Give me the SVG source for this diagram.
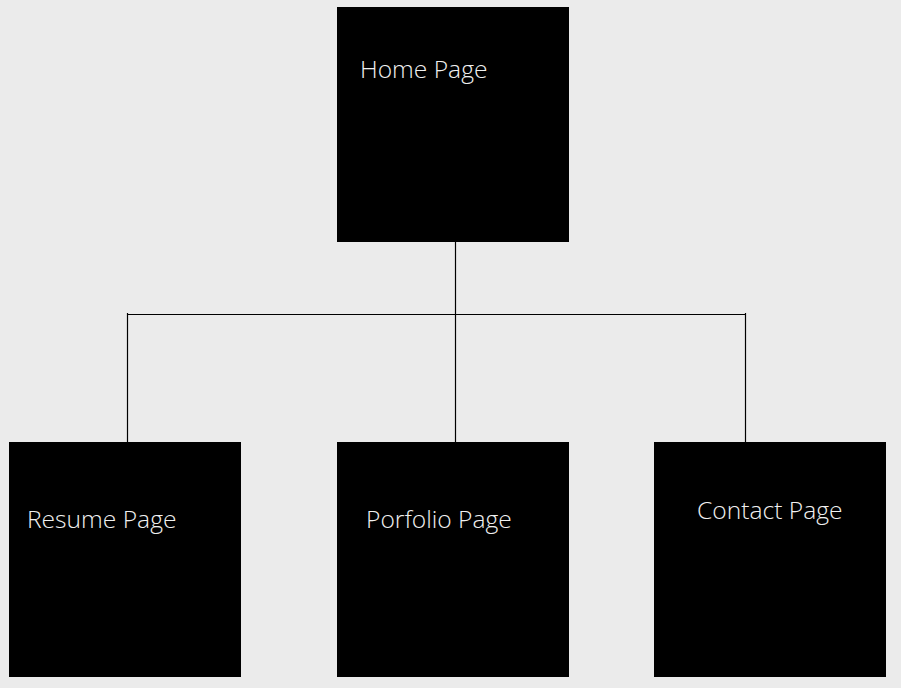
<svg xmlns="http://www.w3.org/2000/svg" width="901" height="688" viewBox="0 0 901 688">
<style>
.box{fill:#000}
.lbl{font-family:"Open Sans","Liberation Sans",sans-serif;font-weight:300;font-size:24.6px;fill:#f0f0f0}
.con{stroke:#000;stroke-width:1.2;fill:none}
</style>
<rect width="901" height="688" fill="#ebebeb"/>
<g id="connectors">
<line class="con" x1="455.5" y1="241" x2="455.5" y2="442"/>
<line class="con" x1="127.5" y1="314.5" x2="745.5" y2="314.5"/>
<line class="con" x1="127.5" y1="313" x2="127.5" y2="442"/>
<line class="con" x1="745.5" y1="313" x2="745.5" y2="442"/>
</g>
<g id="home"><rect class="box" x="337" y="7" width="232" height="235"/><text class="lbl" x="360" y="78">Home Page</text></g>
<g id="resume"><rect class="box" x="9" y="442" width="232" height="235"/><text class="lbl" x="27" y="528">Resume Page</text></g>
<g id="portfolio"><rect class="box" x="337" y="442" width="232" height="235"/><text class="lbl" x="366" y="528">Porfolio Page</text></g>
<g id="contact"><rect class="box" x="654" y="442" width="232" height="235"/><text class="lbl" x="697" y="519">Contact Page</text></g>
</svg>
